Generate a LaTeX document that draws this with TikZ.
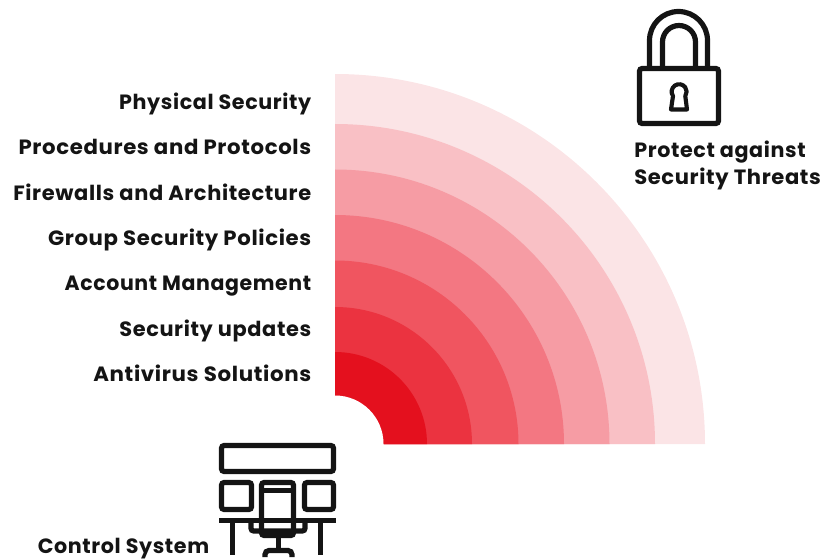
\documentclass[tikz,border=0pt]{standalone}
\usepackage{fontspec}
\setmainfont{Poppins}[LetterSpace=3]
\definecolor{b1}{HTML}{E4101E}
\definecolor{b2}{HTML}{EB3340}
\definecolor{b3}{HTML}{F05560}
\definecolor{b4}{HTML}{F37782}
\definecolor{b5}{HTML}{F69CA4}
\definecolor{b6}{HTML}{F9C0C5}
\definecolor{b7}{HTML}{FBE4E6}
\definecolor{ink}{HTML}{141414}
\tikzset{
  x=0.75pt,y=-0.75pt,
  lab/.style={font=\bfseries\fontsize{15.5}{18}\selectfont,text=ink,inner sep=0pt},
  labr/.style={lab,anchor=base east,transform shape},
  labl/.style={lab,anchor=base west,transform shape},
  ico/.style={draw=ink,line width=3.9pt,rounded corners=2pt},
  icothin/.style={draw=ink,line width=3.9pt},
}
\newcommand{\quarter}[2]{\fill[#2] (335,444) -- (335,444-#1) arc[start angle=90,end angle=0,radius=#1*0.75pt] -- cycle;}
\begin{document}
\begin{tikzpicture}
\useasboundingbox (0,0) rectangle (822,560);
% bands
\quarter{370}{b7}
\quarter{320}{b6}
\quarter{274.5}{b5}
\quarter{229}{b4}
\quarter{183.5}{b3}
\quarter{137}{b2}
\fill[b1] (335,352) arc[start angle=90,end angle=0,radius=92*0.75pt] -- (383.5,444) arc[start angle=0,end angle=90,radius=48.5*0.75pt] -- cycle;
\fill[white] (334,395.5) -- (335,395.5) arc[start angle=90,end angle=0,radius=48.5*0.75pt] -- (383.5,445) -- (334,445) -- cycle;
% labels
\node[labr] (l1) at (311.5,109.5) {Physical Security};
\node[labr,xscale=1.028] (l2) at (311.5,154.5) {Procedures and Protocols};
\node[labr,xscale=1.014] (l3) at (311.5,200) {Firewalls and Architecture};
\node[labr,xscale=1.027] (l4) at (311.5,245) {Group Security Policies};
\node[labr,xscale=0.992] (l5) at (311.5,290) {Account Management};
\node[labr,xscale=1.01] (l6) at (311.5,336) {Security updates};
\node[labr,xscale=1.033] (l7) at (311.5,381) {Antivirus Solutions};
\node[labl] (p1) at (634,157) {Protect against};
\node[labl,xscale=1.02] (p2) at (634,184.5) {Security Threats};
\node[labr] (c1) at (209.5,553.5) {Control System};
% lock
\draw[ico] (639.5,68.5) rectangle (718.5,123.5);
\draw[icothin] (649.5,67) -- (649.5,40.5) arc[start angle=180,end angle=0,radius=29*0.75pt] -- (707.5,67);
\draw[icothin] (662.5,67) -- (662.5,42) arc[start angle=180,end angle=0,radius=16.5*0.75pt] -- (695.5,67);
\draw[draw=ink,line width=3.1pt,line join=round] (673,96) arc[start angle=215,end angle=-35,radius=7.5*0.75pt] -- (687,109.5) -- (671,109.5) -- cycle;
% control system
\draw[ico] (221.5,445.5) rectangle (333.5,471.5);
\draw[ico] (221.5,482.5) rectangle (251.5,509.5);
\draw[ico] (304.5,482.5) rectangle (333.5,509.5);
\draw[ico] (261.5,482.5) rectangle (293.5,535.5);
\draw[icothin] (261,490.5) -- (294,490.5);
\draw[icothin] (219,520.5) -- (336,520.5);
\draw[icothin] (232.5,520) -- (232.5,555);
\draw[icothin] (320.5,520) -- (320.5,555);
\draw[icothin,rounded corners=2pt] (251,521) -- (251,531) -- (305,531) -- (305,521);
\draw[icothin] (278.5,536) -- (278.5,550);
\draw[icothin,rounded corners=3pt] (265,557) -- (265,550.5) -- (292,550.5) -- (292,557);
\end{tikzpicture}
\end{document}
